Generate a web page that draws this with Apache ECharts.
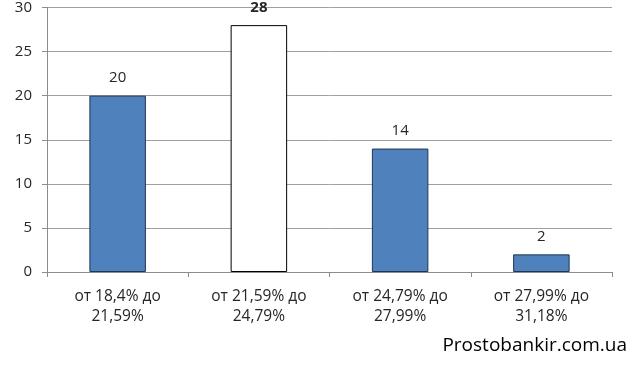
<!DOCTYPE html>
<html><head><meta charset="utf-8">
<script src="https://cdn.jsdelivr.net/npm/echarts@6/dist/echarts.min.js"></script>
<style>html,body{margin:0;padding:0;background:#fff}#c{width:640px;height:369px}</style>
</head><body><div id="c"></div>
<script>
const categories = ["от 18,4% до\n21,59%", "от 21,59% до\n24,79%", "от 24,79% до\n27,99%", "от 27,99% до\n31,18%"];
const values = [20, 28, 14, 2];
const highlighted = [false, true, false, false];
const yTicks = { min: 0, max: 30, interval: 5 };
const watermark = "Prostobankir.com.ua";

const font = "'Open Sans', 'Liberation Sans', sans-serif";
const chart = echarts.init(document.getElementById('c'), null, { renderer: 'canvas' });
chart.setOption({
  animation: false,
  backgroundColor: '#fff',
  grid: { left: 47, right: 28, top: 6, bottom: 97, containLabel: false },
  graphic: [{
    type: 'text', right: 13, top: 336,
    style: { text: watermark, font: '19px ' + font, fill: '#000' }
  }],
  xAxis: {
    type: 'category', data: categories,
    axisLine: { lineStyle: { color: '#8c8c8c', width: 1 } },
    axisTick: { show: true, length: 5, lineStyle: { color: '#8c8c8c' } },
    axisLabel: { fontFamily: font, fontSize: 15.5, color: '#262626', margin: 15, lineHeight: 20 }
  },
  yAxis: {
    type: 'value', min: yTicks.min, max: yTicks.max, interval: yTicks.interval,
    axisLine: { show: true, lineStyle: { color: '#8c8c8c' } },
    axisTick: { show: true, length: 5, lineStyle: { color: '#8c8c8c' } },
    splitLine: { lineStyle: { color: '#a0a0a0' } },
    axisLabel: { fontFamily: font, fontSize: 15, color: '#262626', margin: 15 }
  },
  series: [{
    type: 'bar', barWidth: '40%',
    data: values.map((v, i) => ({
      value: v,
      itemStyle: highlighted[i]
        ? { color: '#ffffff', borderColor: '#000', borderWidth: 1 }
        : { color: '#4f81bd', borderColor: '#1f3552', borderWidth: 1 },
      label: highlighted[i] ? { fontWeight: 'bold' } : {}
    })),
    label: { show: true, position: 'top', distance: 10, fontFamily: font, fontSize: 15, color: '#262626' }
  }]
});
</script></body></html>
